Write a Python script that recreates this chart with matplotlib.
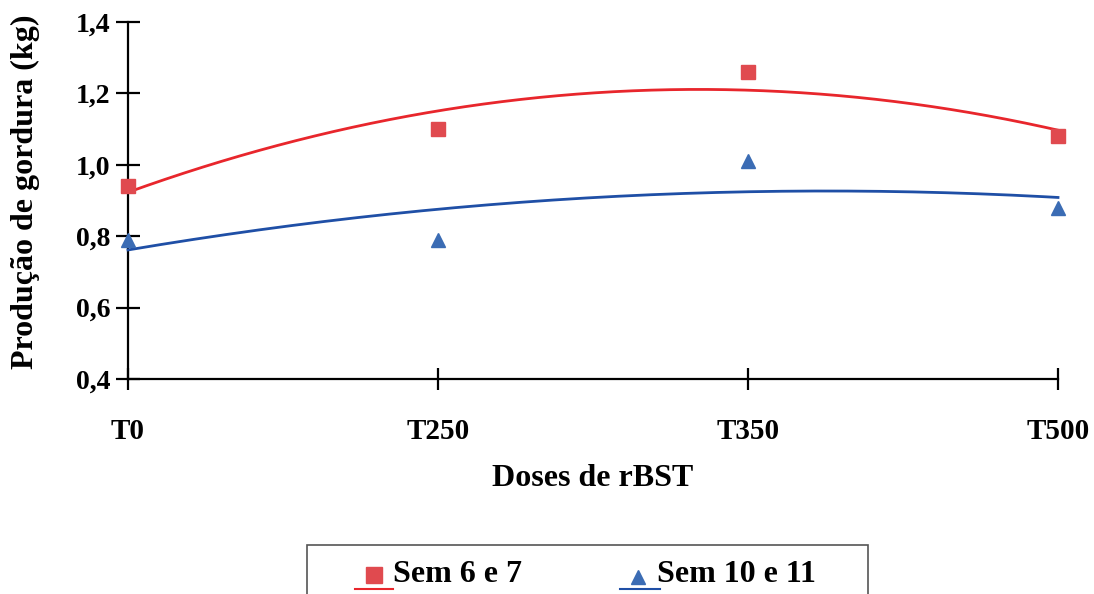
import numpy as np
import matplotlib
matplotlib.use("Agg")
import matplotlib.pyplot as plt
from matplotlib.lines import Line2D
from matplotlib.patches import Rectangle

categories = ["T0", "T250", "T350", "T500"]
sem_6_7 = [0.94, 1.10, 1.26, 1.08]
sem_10_11 = [0.79, 0.79, 1.01, 0.88]
series_labels = ["Sem 6 e 7", "Sem 10 e 11"]
y_ticks = [0.4, 0.6, 0.8, 1.0, 1.2, 1.4]

plt.rcParams['font.family'] = ['Liberation Serif', 'DejaVu Serif']
plt.rcParams['font.weight'] = 'bold'

W, H = 1094, 594
fig = plt.figure(figsize=(W / 100, H / 100), dpi=100)
ax = fig.add_axes([128 / W, 1 - 379 / H, (1058 - 128) / W, (379 - 22) / H])

x = np.arange(len(categories))
red_m, red_l = '#e04a4f', '#e8262c'
blue_m, blue_l = '#3b6cb4', '#1f4fa6'

xs = np.linspace(0, len(categories) - 1, 200)
for vals, mc, lc, mk in [(sem_6_7, red_m, red_l, 's'), (sem_10_11, blue_m, blue_l, '^')]:
    coef = np.polyfit(x, vals, 2)
    ax.plot(xs, np.polyval(coef, xs), color=lc, lw=2.0, clip_on=False, zorder=3)
    ax.plot(x, vals, linestyle='none', marker=mk, ms=10.5, color=mc, mec=mc,
            clip_on=False, zorder=4)

ax.set_xlim(0, len(categories) - 1)
ax.set_ylim(0.4, 1.4)
ax.set_yticks(y_ticks)
ax.set_yticklabels([f"{v:.1f}".replace('.', ',') for v in y_ticks])
ax.set_xticks(x)
ax.set_xticklabels(categories)
for s in ['top', 'right']:
    ax.spines[s].set_visible(False)
for s in ['left', 'bottom']:
    ax.spines[s].set_linewidth(1.6)
    ax.spines[s].set_zorder(2)
ax.tick_params(axis='y', direction='inout', length=17, width=1.6, labelsize=20, pad=4)
ax.tick_params(axis='x', direction='inout', length=16, width=1.6, labelsize=21, pad=20)
for lab in ax.get_xticklabels() + ax.get_yticklabels():
    lab.set_fontweight('bold')
ax.set_ylabel("Produção de gordura (kg)", fontsize=23, fontweight='bold')
ax.yaxis.set_label_coords((25 - 128) / 930, (379 - 192) / 357)
ax.set_xlabel("Doses de rBST", fontsize=23, fontweight='bold')
ax.xaxis.set_label_coords(0.5, (379 - 478) / 357)
ax.xaxis.label.set_va('center')
ax.yaxis.label.set_va('center')

# legend (drawn in pixel coordinates of the figure)
def fx(px):
    return px / W

def fy(py):
    return 1 - py / H

fig.patches.append(Rectangle((fx(307), fy(640)), (868 - 307) / W, (640 - 545) / H,
                             transform=fig.transFigure, fill=False,
                             edgecolor='#555555', lw=1.2, clip_on=False))
entries = [
    (series_labels[0], 's', 11, red_m, red_l, 374, 575, 355, 393, 393),
    (series_labels[1], '^', 10, blue_m, blue_l, 638, 577, 620, 660, 657),
]
for lab, mk, ms, mc, lc, mx, my, l0, l1, tx in entries:
    fig.add_artist(Line2D([fx(mx)], [fy(my)], marker=mk, ms=ms,
                          color=mc, mec=mc, linestyle='none', transform=fig.transFigure))
    fig.add_artist(Line2D([fx(l0), fx(l1)], [fy(588.5), fy(588.5)], color=lc, lw=1.5,
                          transform=fig.transFigure))
    fig.text(fx(tx), fy(582), lab, fontsize=23, fontweight='bold', va='baseline', ha='left')

fig.savefig("out.png", dpi=100)
